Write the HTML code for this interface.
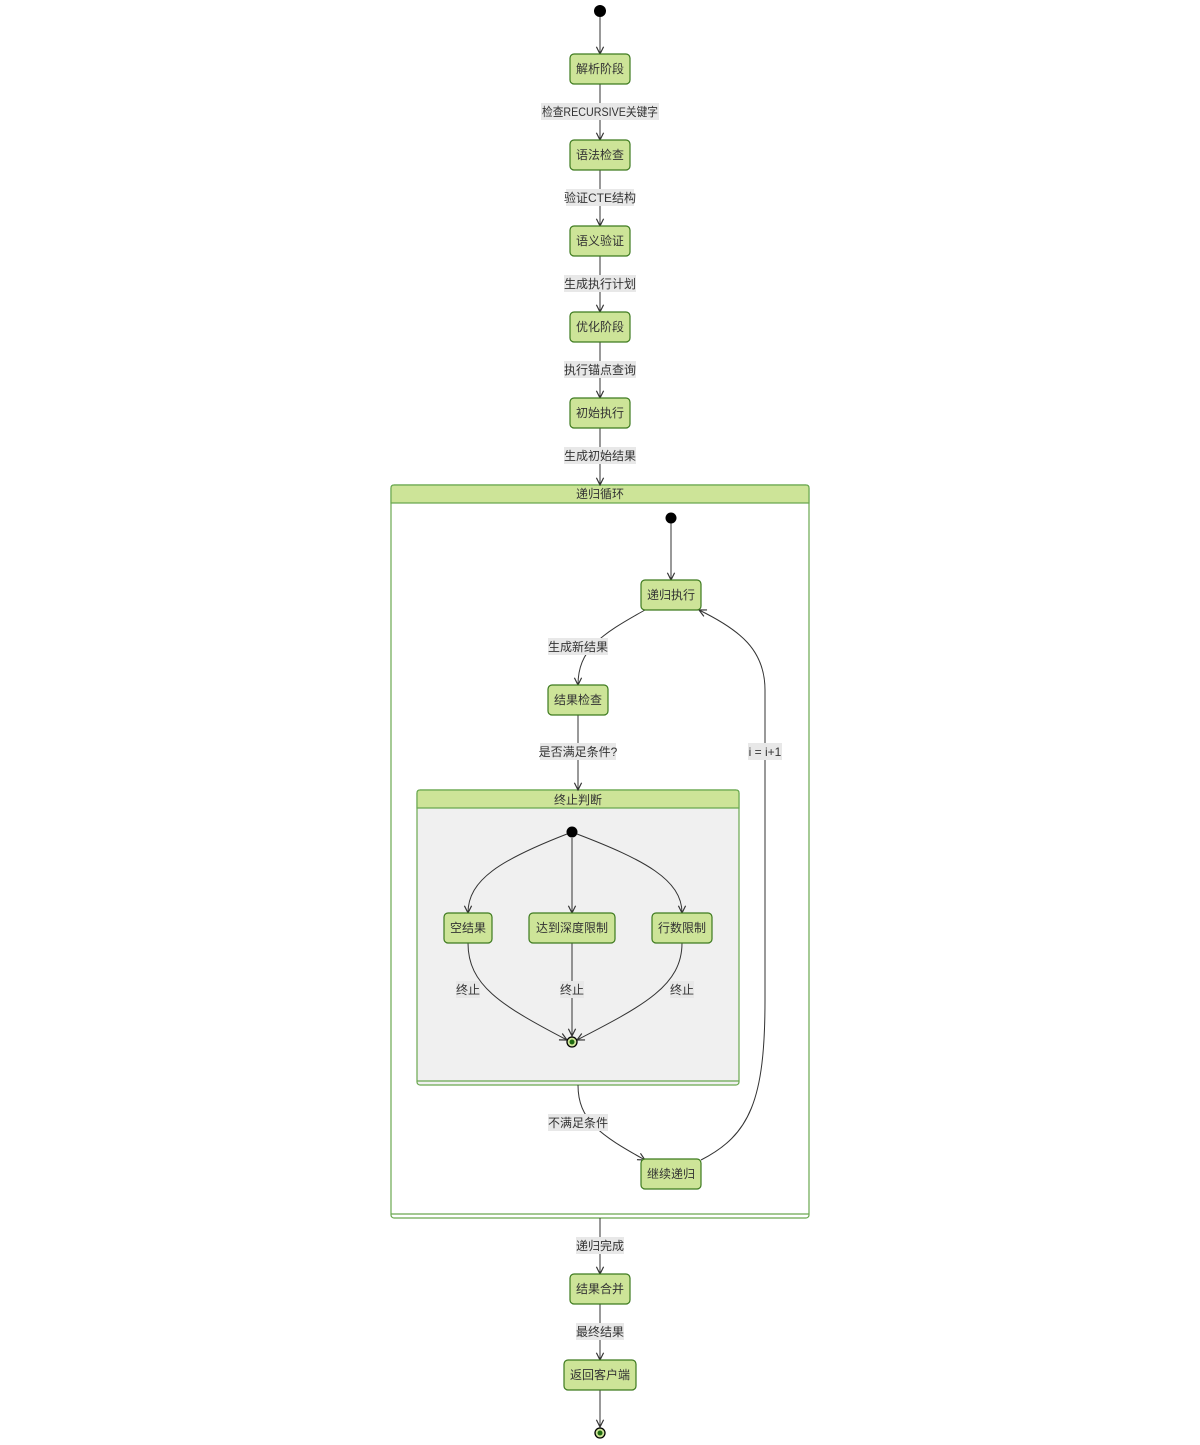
<!DOCTYPE html>
<html><head><meta charset="utf-8"><style>
html,body{margin:0;padding:0;background:#fff;}
svg{display:block;}
text{font-family:"Liberation Sans","Noto Sans CJK SC",sans-serif;font-size:12px;fill:#333;}
.n{fill:#cde498;stroke:#3d7a1e;stroke-width:1.2;}
.c{fill:#cde498;stroke:#6aa84f;stroke-width:1.2;}
.e{fill:none;stroke:#333;stroke-width:1;}
.lb{fill:#e8e8e8;}
</style></head><body>
<svg width="1200" height="1445" viewBox="0 0 1200 1445" xmlns="http://www.w3.org/2000/svg">
<defs>
<marker id="a" viewBox="0 0 10 10" refX="9" refY="5" markerWidth="9" markerHeight="9" orient="auto" markerUnits="userSpaceOnUse">
<path d="M1,1 L9,5 L1,9" fill="none" stroke="#333" stroke-width="1.3"/>
</marker>
</defs>

<rect x="391" y="485" width="418" height="733" rx="3" fill="#fff" stroke="#6aa84f" stroke-width="1.2"/>
<path d="M391,503 V488 Q391,485 394,485 H806 Q809,485 809,488 V503 Z" class="c"/>
<line x1="391" y1="1214" x2="809" y2="1214" stroke="#6aa84f" stroke-width="1.2"/>
<text x="600" y="498" text-anchor="middle">递归循环</text>

<rect x="417" y="790" width="322" height="295" rx="3" fill="#f0f0f0" stroke="#6aa84f" stroke-width="1.2"/>
<path d="M417,808 V793 Q417,790 420,790 H736 Q739,790 739,793 V808 Z" class="c"/>
<line x1="417" y1="1081" x2="739" y2="1081" stroke="#6aa84f" stroke-width="1.2"/>
<text x="578" y="804" text-anchor="middle">终止判断</text>

<line x1="600" y1="17" x2="600" y2="54" class="e" marker-end="url(#a)"/>
<line x1="600" y1="84" x2="600" y2="140" class="e" marker-end="url(#a)"/>
<line x1="600" y1="170" x2="600" y2="226" class="e" marker-end="url(#a)"/>
<line x1="600" y1="256" x2="600" y2="312" class="e" marker-end="url(#a)"/>
<line x1="600" y1="342" x2="600" y2="398" class="e" marker-end="url(#a)"/>
<line x1="600" y1="428" x2="600" y2="485" class="e" marker-end="url(#a)"/>
<line x1="600" y1="1218" x2="600" y2="1274" class="e" marker-end="url(#a)"/>
<line x1="600" y1="1304" x2="600" y2="1360" class="e" marker-end="url(#a)"/>
<line x1="600" y1="1390" x2="600" y2="1427" class="e" marker-end="url(#a)"/>

<rect x="541" y="103" width="118" height="17" class="lb"/><text x="542" y="116" textLength="116" lengthAdjust="spacingAndGlyphs">检查RECURSIVE关键字</text>
<rect x="566" y="189" width="68" height="17" class="lb"/><text x="600" y="202" text-anchor="middle">验证CTE结构</text>
<rect x="564" y="275" width="72" height="17" class="lb"/><text x="600" y="288" text-anchor="middle">生成执行计划</text>
<rect x="564" y="361" width="72" height="17" class="lb"/><text x="600" y="374" text-anchor="middle">执行锚点查询</text>
<rect x="564" y="447" width="72" height="17" class="lb"/><text x="600" y="460" text-anchor="middle">生成初始结果</text>
<rect x="576" y="1237" width="48" height="17" class="lb"/><text x="600" y="1250" text-anchor="middle">递归完成</text>
<rect x="576" y="1323" width="48" height="17" class="lb"/><text x="600" y="1336" text-anchor="middle">最终结果</text>

<circle cx="600" cy="11" r="6" fill="#000"/>
<rect x="570" y="54" width="60" height="30" rx="4" class="n"/><text x="600" y="73" text-anchor="middle">解析阶段</text>
<rect x="570" y="140" width="60" height="30" rx="4" class="n"/><text x="600" y="159" text-anchor="middle">语法检查</text>
<rect x="570" y="226" width="60" height="30" rx="4" class="n"/><text x="600" y="245" text-anchor="middle">语义验证</text>
<rect x="570" y="312" width="60" height="30" rx="4" class="n"/><text x="600" y="331" text-anchor="middle">优化阶段</text>
<rect x="570" y="398" width="60" height="30" rx="4" class="n"/><text x="600" y="417" text-anchor="middle">初始执行</text>
<rect x="570" y="1274" width="60" height="30" rx="4" class="n"/><text x="600" y="1293" text-anchor="middle">结果合并</text>
<rect x="564" y="1360" width="72" height="30" rx="4" class="n"/><text x="600" y="1379" text-anchor="middle">返回客户端</text>
<circle cx="600" cy="1433" r="5" fill="#cde498" stroke="#000" stroke-width="1.3"/><circle cx="600" cy="1433" r="2.5" fill="#1e6b10"/>

<line x1="671" y1="523" x2="671" y2="580" class="e" marker-end="url(#a)"/>
<path d="M645,610 C600,635 578,650 578,685" class="e" marker-end="url(#a)"/>
<line x1="578" y1="715" x2="578" y2="790" class="e" marker-end="url(#a)"/>
<path d="M578,1085 C578,1120 600,1135 645,1160" class="e" marker-end="url(#a)"/>
<path d="M701,1160 C750,1135 765,1100 765,1000 L765,690 C765,650 740,630 699,610" class="e" marker-end="url(#a)"/>

<rect x="548" y="638" width="60" height="17" class="lb"/><text x="578" y="651" text-anchor="middle">生成新结果</text>
<rect x="540" y="743" width="76" height="17" class="lb"/><text x="578" y="756" text-anchor="middle">是否满足条件?</text>
<rect x="748" y="743" width="34" height="17" class="lb"/><text x="765" y="756" text-anchor="middle">i = i+1</text>
<rect x="548" y="1114" width="60" height="17" class="lb"/><text x="578" y="1127" text-anchor="middle">不满足条件</text>

<circle cx="671" cy="518" r="5.5" fill="#000"/>
<rect x="641" y="580" width="60" height="30" rx="4" class="n"/><text x="671" y="599" text-anchor="middle">递归执行</text>
<rect x="548" y="685" width="60" height="30" rx="4" class="n"/><text x="578" y="704" text-anchor="middle">结果检查</text>
<rect x="641" y="1159" width="60" height="30" rx="4" class="n"/><text x="671" y="1178" text-anchor="middle">继续递归</text>

<path d="M567,834 C500,860 468,880 468,913" class="e" marker-end="url(#a)"/>
<line x1="572" y1="838" x2="572" y2="913" class="e" marker-end="url(#a)"/>
<path d="M577,834 C645,860 682,880 682,913" class="e" marker-end="url(#a)"/>
<path d="M468,943 C468,985 500,1005 567,1040" class="e" marker-end="url(#a)"/>
<line x1="572" y1="943" x2="572" y2="1036" class="e" marker-end="url(#a)"/>
<path d="M682,943 C682,985 645,1005 577,1040" class="e" marker-end="url(#a)"/>

<rect x="456" y="981" width="24" height="17" class="lb"/><text x="468" y="994" text-anchor="middle">终止</text>
<rect x="560" y="981" width="24" height="17" class="lb"/><text x="572" y="994" text-anchor="middle">终止</text>
<rect x="670" y="981" width="24" height="17" class="lb"/><text x="682" y="994" text-anchor="middle">终止</text>

<circle cx="572" cy="832" r="5.5" fill="#000"/>
<rect x="444" y="913" width="48" height="30" rx="4" class="n"/><text x="468" y="932" text-anchor="middle">空结果</text>
<rect x="529" y="913" width="86" height="30" rx="4" class="n"/><text x="572" y="932" text-anchor="middle">达到深度限制</text>
<rect x="652" y="913" width="60" height="30" rx="4" class="n"/><text x="682" y="932" text-anchor="middle">行数限制</text>
<circle cx="572" cy="1042" r="5" fill="#cde498" stroke="#000" stroke-width="1.3"/><circle cx="572" cy="1042" r="2.5" fill="#1e6b10"/>
</svg>
</body></html>
